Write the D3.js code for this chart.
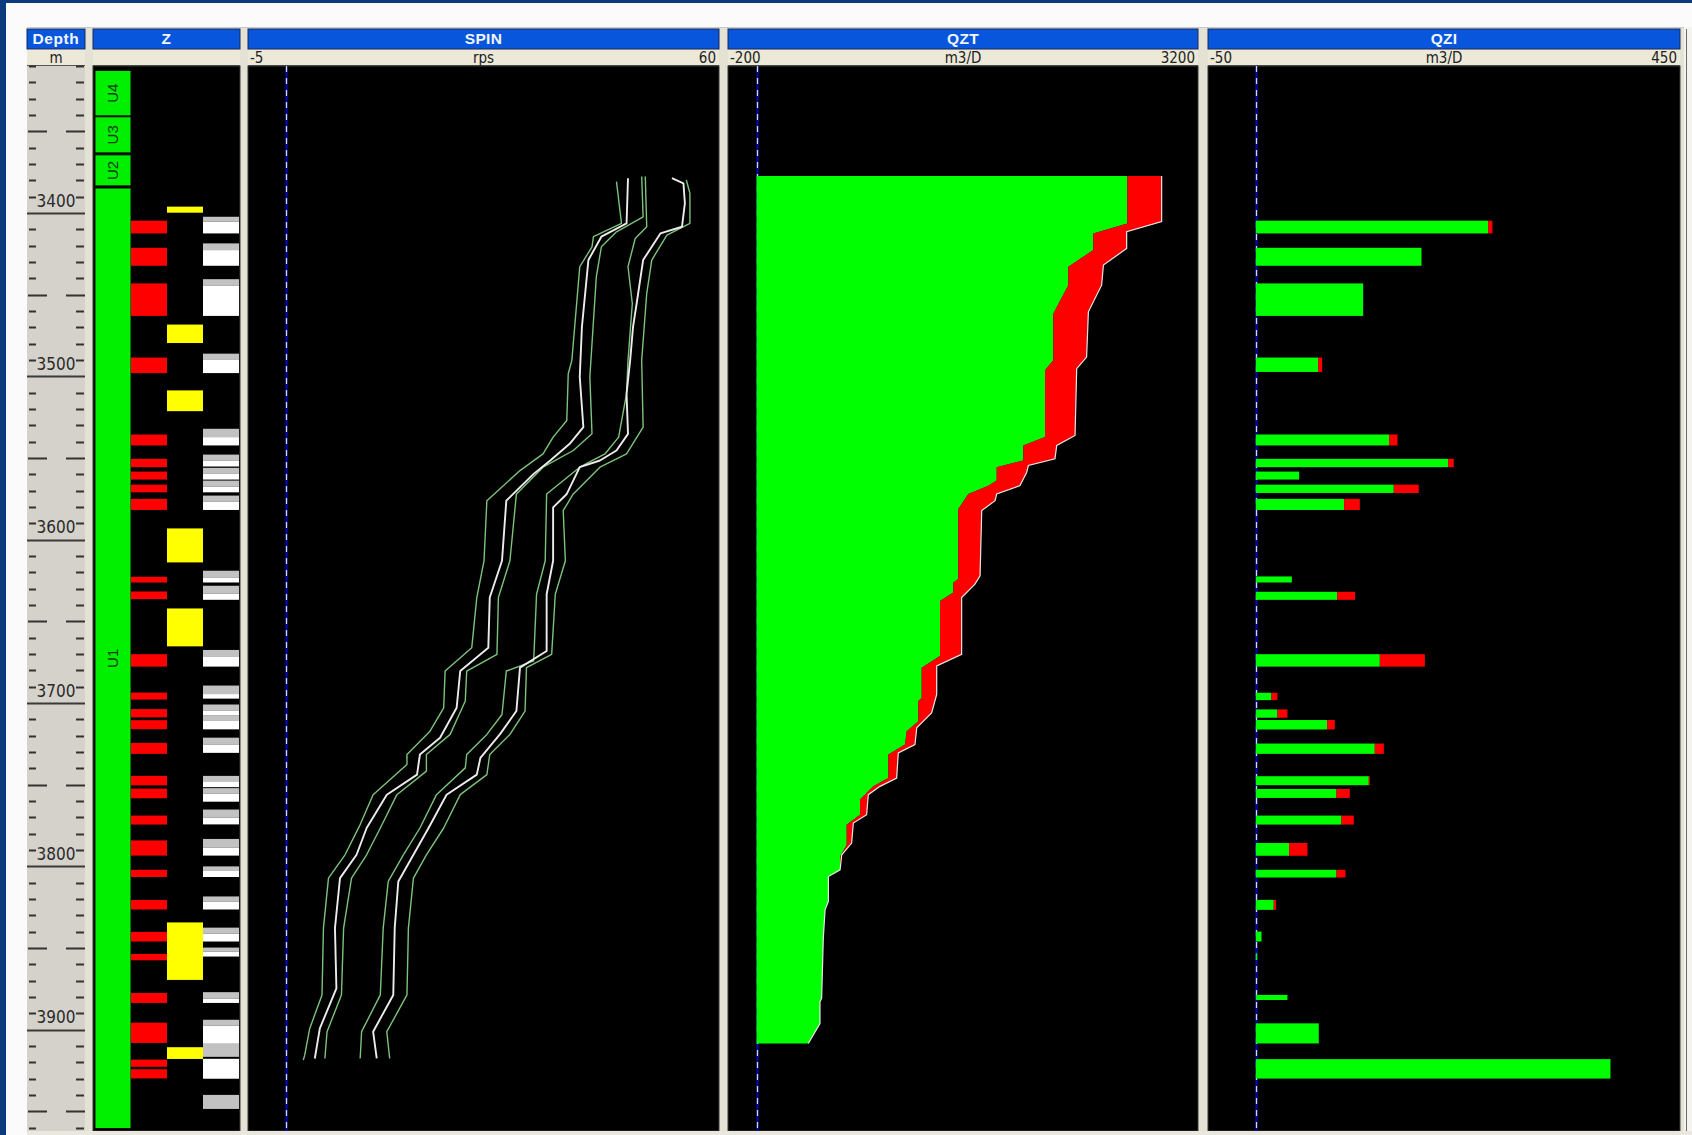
<!DOCTYPE html>
<html>
<head>
<meta charset="utf-8">
<script src="https://cdn.jsdelivr.net/npm/d3@7"></script>
<style>
  html, body { margin: 0; padding: 0; background: #0c3a7c; overflow: hidden; }
  svg { display: block; }
</style>
</head>
<body>
<script>
// ---------------- data ----------------
const depthDomain = [3310, 3962];              // metres shown in the window
const depthLabels = [3400, 3500, 3600, 3700, 3800, 3900];

const trackTitles = ["Depth", "Z", "SPIN", "QZT", "QZI"];
const trackUnits  = ["m", "", "rps", "m3/D", "m3/D"];
const trackMins   = ["", "", "-5", "-200", "-50"];
const trackMaxs   = ["", "", "60", "3200", "450"];

// layer zones (Z track)
const zoneNames   = ["U4", "U3", "U2", "U1"];
const zoneTops    = [3312.7, 3341.1, 3364.4, 3384.7];
const zoneBottoms = [3340.5, 3363.2, 3383.4, 3960.5];

// perforated intervals [top, bottom]
const perfIntervals = [
  [3404.7,3412.5],[3421.3,3432.3],[3443.1,3463.0],[3488.5,3498.0],[3535.6,3542.3],
  [3550.5,3555.6],[3558.3,3563.2],[3566.3,3571.0],[3575.0,3581.8],[3622.7,3626.2],
  [3631.7,3636.4],[3670.1,3677.7],[3693.6,3697.9],[3703.7,3708.8],[3710.5,3716.0],
  [3724.4,3731.1],[3744.6,3750.4],[3752.4,3758.3],[3768.9,3774.4],[3784.1,3793.4],
  [3802.1,3806.5],[3820.6,3826.4],[3840.1,3846.0],[3853.6,3857.5],[3877.5,3883.6],
  [3895.7,3908.1],[3918.3,3922.7],[3924.2,3929.8]
];

// interlayer intervals (yellow)
const yellowIntervals = [
  [3396.1,3399.8],[3468.3,3479.6],[3508.6,3521.3],[3593.1,3613.9],
  [3642.1,3665.3],[3834.3,3869.5],[3910.7,3917.9]
];

// interpretation column: gray and white intervals
const grayIntervals = [
  [3402.3,3405.3],[3418.6,3422.7],[3440.5,3444.6],[3486.1,3489.6],[3532.1,3537.2],
  [3547.9,3551.5],[3556.0,3559.7],[3563.8,3567.5],[3573.0,3576.3],[3619.0,3623.1],
  [3628.2,3633.1],[3667.5,3671.8],[3689.3,3694.5],[3700.9,3704.8],[3707.4,3710.6],
  [3721.2,3725.6],[3744.6,3747.9],[3752.1,3755.4],[3765.2,3770.2],[3783.2,3788.5],
  [3800.0,3802.8],[3818.4,3821.7],[3837.5,3841.2],[3849.7,3852.2],[3877.0,3881.0],
  [3893.9,3897.5],[3908.6,3916.6],[3939.9,3948.5]
];
const whiteIntervals = [
  [3405.3,3412.5],[3422.7,3432.3],[3444.6,3463.0],[3489.6,3498.0],[3537.2,3542.3],
  [3551.5,3555.2],[3559.7,3563.2],[3567.5,3571.0],[3576.5,3581.8],[3623.1,3626.2],
  [3633.1,3636.8],[3671.8,3677.7],[3694.5,3697.3],[3704.8,3707.4],[3710.6,3716.1],
  [3725.6,3730.5],[3747.9,3751.5],[3755.4,3760.4],[3770.2,3774.3],[3788.5,3793.4],
  [3802.8,3806.5],[3821.7,3826.4],[3841.2,3846.0],[3852.2,3855.2],[3881.0,3883.6],
  [3897.5,3908.6],[3917.8,3930.0]
];

// spinner passes: [depth, rps]
const spinA1 = [[3380.8,45.9],[3406.4,46.6],[3414.5,42.7],[3420.7,42.5],[3432.9,40.8],[3490.2,39.7],[3498.4,39.2],[3527.0,39.0],[3537.2,37.1],[3547.5,35.7],[3557.7,32.5],[3576.1,27.9],[3612.9,27.5],[3635.4,26.5],[3666.1,25.8],[3680.4,22.1],[3702.9,21.9],[3717.2,20.0],[3731.5,16.8],[3737.6,16.8],[3756.1,12.1],[3774.4,10.3],[3792.9,8.2],[3807.2,5.9],[3837.8,5.2],[3878.7,5.0],[3899.2,3.3],[3915.6,2.6],[3918.6,2.4]];
const spinA2 = [[3378.7,47.5],[3406.4,47.3],[3414.5,43.8],[3428.8,42.0],[3469.7,41.1],[3500.4,40.8],[3531.1,41.3],[3541.3,39.4],[3551.5,36.7],[3559.7,34.4],[3576.1,30.6],[3612.9,30.0],[3635.4,28.3],[3666.1,28.1],[3680.4,24.2],[3702.9,23.7],[3721.3,21.4],[3731.5,18.6],[3743.8,18.2],[3756.1,14.0],[3776.5,11.2],[3792.9,9.8],[3807.2,7.5],[3837.8,6.8],[3874.7,7.0],[3899.2,4.7],[3917.6,4.0]];
const spinA3 = [[3377.7,49.4],[3402.3,49.6],[3411.5,45.9],[3420.7,43.8],[3439.1,43.1],[3500.4,42.2],[3535.2,42.5],[3545.4,39.9],[3555.6,35.7],[3572.0,32.0],[3612.9,31.1],[3635.4,29.5],[3670.2,29.3],[3680.4,25.1],[3698.8,24.9],[3719.2,22.8],[3731.5,19.5],[3741.7,19.5],[3756.1,15.4],[3776.5,13.1],[3792.9,11.2],[3807.2,9.1],[3837.8,8.0],[3878.7,7.7],[3901.2,5.7],[3917.6,5.4]];
const spinB1 = [[3377.7,49.9],[3408.4,50.1],[3415.6,48.5],[3432.9,47.5],[3455.4,48.1],[3490.2,47.5],[3510.6,47.3],[3537.2,46.2],[3547.5,44.3],[3555.6,40.8],[3572.0,36.2],[3612.9,36.0],[3633.4,34.8],[3674.2,34.4],[3680.4,30.6],[3707.0,30.0],[3719.2,27.9],[3731.5,25.1],[3739.7,24.9],[3756.1,20.9],[3776.5,18.6],[3792.9,16.3],[3809.2,14.2],[3837.8,13.5],[3878.7,13.1],[3901.2,10.5],[3917.6,10.3]];
const spinB2 = [[3378.7,53.6],[3381.8,55.2],[3394.1,55.4],[3408.4,55.0],[3412.5,52.0],[3428.8,49.6],[3455.4,48.7],[3469.7,48.2],[3490.2,47.8],[3510.6,47.3],[3535.2,47.5],[3545.4,45.9],[3551.5,43.6],[3555.6,40.8],[3572.0,39.0],[3580.2,37.1],[3612.9,37.1],[3633.4,36.2],[3668.1,36.2],[3678.3,32.5],[3704.9,32.0],[3719.2,29.7],[3733.6,27.0],[3743.8,26.5],[3756.1,22.3],[3776.5,19.8],[3792.9,17.7],[3809.2,15.6],[3837.8,15.1],[3878.7,14.9],[3901.2,12.1],[3917.6,12.6]];
const spinB3 = [[3379.8,55.6],[3387.9,56.1],[3406.4,56.1],[3413.5,52.9],[3428.8,50.8],[3449.3,50.1],[3490.2,49.4],[3531.1,49.6],[3547.5,47.3],[3555.6,43.6],[3572.0,39.9],[3582.2,38.5],[3612.9,38.8],[3633.4,37.4],[3670.2,36.9],[3678.3,33.4],[3704.9,33.2],[3719.2,31.1],[3731.5,28.3],[3743.8,27.9],[3756.1,24.2],[3776.5,21.9],[3792.9,19.5],[3807.2,17.7],[3837.8,17.0],[3878.7,16.8],[3901.2,14.0],[3917.6,14.4]];

// cumulative flow profile: [depth, m3/D]
const qztInner = [[3377.3,2694],[3406.4,2694],[3412.5,2447],[3422.7,2447],[3432.9,2265],[3444.2,2265],[3461.6,2156],[3490.2,2156],[3496.3,2096],[3537.2,2096],[3542.3,1938],[3551.5,1938],[3555.6,1745],[3563.8,1745],[3566.9,1684],[3572.0,1539],[3581.2,1466],[3624.1,1466],[3626.2,1430],[3632.4,1430],[3637.5,1333],[3671.2,1333],[3678.4,1200],[3696.8,1200],[3698.8,1176],[3711.1,1176],[3717.2,1091],[3725.4,1079],[3731.5,958],[3745.9,958],[3751.0,849],[3759.1,752],[3768.4,752],[3774.5,655],[3786.8,655],[3793.9,607],[3802.1,607],[3806.2,522],[3821.5,522],[3826.6,498],[3844.0,485],[3880.8,473],[3882.9,461],[3896.2,461],[3908.4,376]];
const qztTotal = [[3377.3,2943],[3405.3,2943],[3411.5,2689],[3421.7,2689],[3431.9,2520],[3444.2,2507],[3460.5,2411],[3488.2,2398],[3495.3,2326],[3536.2,2314],[3542.3,2181],[3550.5,2168],[3554.6,1975],[3558.7,1963],[3566.9,1914],[3572.0,1745],[3576.1,1733],[3582.2,1636],[3622.1,1624],[3627.2,1587],[3635.4,1490],[3670.2,1490],[3677.3,1309],[3694.7,1309],[3706.0,1272],[3711.1,1212],[3715.2,1164],[3725.4,1151],[3730.5,1030],[3745.9,1018],[3751.0,897],[3756.1,812],[3768.4,800],[3773.5,703],[3785.7,691],[3792.9,619],[3802.1,607],[3806.2,522]];

// per-interval flow: [top, bottom], green part and total
const qziIntervals = [
  [3404.7,3412.5],[3421.3,3432.3],[3443.1,3463.0],[3488.5,3497.3],[3535.6,3542.3],
  [3550.5,3555.6],[3558.3,3563.2],[3566.3,3571.4],[3575.0,3581.8],[3622.5,3626.2],
  [3631.9,3636.8],[3670.1,3677.7],[3693.7,3698.2],[3703.9,3709.0],[3710.4,3716.2],
  [3724.8,3731.1],[3744.8,3750.3],[3752.6,3758.1],[3768.9,3774.4],[3785.7,3793.5],
  [3802.1,3806.8],[3820.5,3826.6],[3839.9,3846.0],[3853.2,3857.3],[3878.7,3881.8],
  [3896.1,3908.4],[3918.0,3929.9]
];
const qziGreen = [248.2,177.0,114.7,66.6,142.5,205.5,46.3,147.4,94.4,38.5,86.9,132.5,16.7,23.1,76.2,127.1,120.7,86.2,91.5,35.6,86.2,19.2,6.1,1.4,33.8,67.3,378.9];
const qziTotal = [252.8,177.0,114.7,70.9,151.4,211.5,46.3,174.1,111.1,38.5,106.1,180.6,23.1,33.8,84.4,136.8,121.8,100.4,104.7,55.2,95.8,21.7,6.1,1.4,33.8,67.3,378.9];

// ---------------- layout ----------------
const W = 1692, H = 1135;
const headTop = 29, headBot = 49, unitBot = 65, bodyTop = 66, bodyBot = 1131;
const tracks = [
  { x0: 27,   x1: 85 },
  { x0: 93,   x1: 240 },
  { x0: 248,  x1: 719 },
  { x0: 728,  x1: 1198 },
  { x0: 1208, x1: 1680 }
];
const narrow = "'Liberation Sans Narrow','Arial Narrow','DejaVu Sans Condensed','Liberation Sans',sans-serif";
const bold = "'Liberation Sans',Arial,sans-serif";

const svg = d3.select("body").append("svg").attr("width", W).attr("height", H);

const y = d3.scaleLinear().domain(depthDomain).range([bodyTop, bodyBot]);
const xSpin = d3.scaleLinear().domain([-5, 60]).range([250, 718]);
const xQzt  = d3.scaleLinear().domain([-200, 3200]).range([729, 1197]);
const xQzi  = d3.scaleLinear().domain([-50, 450]).range([1209, 1677]);

// window background
svg.append("rect").attr("x", 0).attr("y", 0).attr("width", W).attr("height", H).attr("fill", "#0c3a7c");
svg.append("rect").attr("x", 6).attr("y", 3).attr("width", W - 6).attr("height", H - 3).attr("fill", "#fbfbfb");
svg.append("rect").attr("x", 85).attr("y", 27).attr("width", W - 85).attr("height", H - 27).attr("fill", "#e4e1d5");
svg.append("line").attr("x1", 27).attr("x2", W).attr("y1", 27.5).attr("y2", 27.5).attr("stroke", "#c8c8c8");

// headers
tracks.forEach((t, i) => {
  const w = t.x1 - t.x0;
  svg.append("rect").attr("x", t.x0).attr("y", headTop).attr("width", w).attr("height", headBot - headTop)
    .attr("fill", "#0756dc").attr("stroke", "#1b2b5a").attr("stroke-width", 1);
  svg.append("rect").attr("x", t.x0).attr("y", headBot + 1).attr("width", w).attr("height", unitBot - headBot - 1)
    .attr("fill", "#ece9d8");
  svg.append("line").attr("x1", t.x0).attr("x2", t.x1).attr("y1", unitBot + 0.5).attr("y2", unitBot + 0.5)
    .attr("stroke", "#555");
  svg.append("text").attr("x", (t.x0 + t.x1) / 2).attr("y", headBot - 5)
    .attr("text-anchor", "middle").attr("font-family", bold).attr("font-weight", "bold")
    .attr("font-size", 15.5).attr("letter-spacing", i === 0 ? 0.6 : 0.3).attr("fill", "#f2f6ff")
    .text(trackTitles[i]);
  svg.append("text").attr("x", (t.x0 + t.x1) / 2).attr("y", unitBot - 2)
    .attr("text-anchor", "middle").attr("font-family", narrow).attr("font-size", 15).attr("fill", "#222")
    .text(trackUnits[i]);
  svg.append("text").attr("x", t.x0 + 2).attr("y", unitBot - 2)
    .attr("font-family", narrow).attr("font-size", 15).attr("fill", "#222").text(trackMins[i]);
  svg.append("text").attr("x", t.x1 - 3).attr("y", unitBot - 2).attr("text-anchor", "end")
    .attr("font-family", narrow).attr("font-size", 15).attr("fill", "#222").text(trackMaxs[i]);
});

// partial next track at the right edge
svg.append("rect").attr("x", 1684).attr("y", 27).attr("width", 8).attr("height", H - 27).attr("fill", "#f4f3ee");
svg.append("line").attr("x1", 1686.5).attr("x2", 1686.5).attr("y1", 29).attr("y2", H).attr("stroke", "#6a6a6a");

// track bodies
tracks.forEach((t, i) => {
  svg.append("rect").attr("x", t.x0).attr("y", bodyTop).attr("width", t.x1 - t.x0).attr("height", bodyBot - bodyTop)
    .attr("fill", i === 0 ? "#d5d2cb" : "#000").attr("stroke", i === 0 ? "none" : "#3a3a3a");
});
svg.append("rect").attr("x", 27).attr("y", bodyBot).attr("width", W - 27).attr("height", H - bodyBot).attr("fill", "#e9e7de");

// ---------- depth track ----------
const dg = svg.append("g");
d3.range(depthDomain[0], depthDomain[1], 10).forEach(d => {
  const yy = Math.round(y(d)) + 0.5;
  if (d % 100 === 0) {
    dg.append("line").attr("x1", 27).attr("x2", 85).attr("y1", yy).attr("y2", yy)
      .attr("stroke", "#3a3a3a").attr("stroke-width", 2);
  } else if (d % 50 === 0) {
    dg.append("line").attr("x1", 28).attr("x2", 47).attr("y1", yy).attr("y2", yy).attr("stroke", "#333").attr("stroke-width", 2);
    dg.append("line").attr("x1", 66).attr("x2", 85).attr("y1", yy).attr("y2", yy).attr("stroke", "#333").attr("stroke-width", 2);
  } else {
    dg.append("line").attr("x1", 29).attr("x2", 36).attr("y1", yy).attr("y2", yy).attr("stroke", "#333").attr("stroke-width", 2);
    dg.append("line").attr("x1", 76).attr("x2", 84).attr("y1", yy).attr("y2", yy).attr("stroke", "#333").attr("stroke-width", 2);
  }
});
depthLabels.forEach(d => {
  dg.append("text").attr("x", 56).attr("y", y(d) - 12.5).attr("dy", "0.36em")
    .attr("text-anchor", "middle").attr("font-family", narrow).attr("font-size", 17).attr("fill", "#2a2a2a")
    .text(d);
});

// ---------- Z track ----------
const zCols = d3.scaleBand().domain(["zone", "perf", "yellow", "interp"]).range([95, 239]);
const zg = svg.append("g");
zoneNames.forEach((n, i) => {
  const y0 = y(zoneTops[i]), y1 = y(zoneBottoms[i]);
  zg.append("rect").attr("x", zCols("zone")).attr("y", y0).attr("width", zCols.bandwidth()).attr("height", y1 - y0)
    .attr("fill", "#00f000").attr("stroke", "#0a0a0a").attr("stroke-width", 1);
  const cx = zCols("zone") + zCols.bandwidth() / 2, cy = (y0 + y1) / 2;
  zg.append("text").attr("transform", `translate(${cx},${cy}) rotate(-90)`).attr("dy", "0.36em")
    .attr("text-anchor", "middle").attr("font-family", bold).attr("font-size", 15).attr("fill", "#0b3d0b")
    .text(n);
});
const intervalRects = (list, col, color) => {
  zg.selectAll(null).data(list).join("rect")
    .attr("x", zCols(col)).attr("width", zCols.bandwidth())
    .attr("y", d => y(d[0])).attr("height", d => y(d[1]) - y(d[0]))
    .attr("fill", color);
};
intervalRects(perfIntervals, "perf", "#ff0000");
intervalRects(yellowIntervals, "yellow", "#ffff00");
intervalRects(grayIntervals, "interp", "#c2c2c2");
intervalRects(whiteIntervals, "interp", "#ffffff");

// zero reference line, blue with light dashes
function zeroLine(x) {
  const xx = Math.round(x) + 0.5;
  svg.append("line").attr("x1", xx).attr("x2", xx).attr("y1", bodyTop).attr("y2", bodyBot)
    .attr("stroke", "#0008b0").attr("stroke-width", 2.2);
  svg.append("line").attr("x1", xx).attr("x2", xx).attr("y1", bodyTop).attr("y2", bodyBot)
    .attr("stroke", "#d8d8d8").attr("stroke-width", 1.3).attr("stroke-dasharray", "6,6");
}

// ---------- SPIN track ----------
zeroLine(xSpin(0));
const spinLine = d3.line().x(d => xSpin(d[1])).y(d => y(d[0]));
const spinG = svg.append("g").attr("fill", "none").attr("stroke-linejoin", "round");
[[spinA1, "g"], [spinA3, "g"], [spinB1, "g"], [spinB3, "g"], [spinA2, "w"], [spinB2, "w"]].forEach(([s, k]) => {
  spinG.append("path").attr("d", spinLine(s))
    .attr("stroke", k === "g" ? "#7cc37c" : "#ececec")
    .attr("stroke-width", k === "g" ? 1.4 : 1.9);
});

// ---------- QZT track ----------
zeroLine(xQzt(0));
const qg = svg.append("g");
const x0q = xQzt(0);
const innerPts = qztInner.map(d => [xQzt(d[1]), y(d[0])]);
const greenPoly = [[x0q, y(qztInner[0][0])], ...innerPts, [x0q, y(qztInner[qztInner.length - 1][0])]];
qg.append("path").attr("d", d3.line()(greenPoly) + "Z").attr("fill", "#00ff00");
const lastTotalDepth = qztTotal[qztTotal.length - 1][0];
const innerUpper = qztInner.filter(d => d[0] <= lastTotalDepth).reverse();
const redPoly = [...qztTotal.map(d => [xQzt(d[1]), y(d[0])]), ...innerUpper.map(d => [xQzt(d[1]), y(d[0])])];
qg.append("path").attr("d", d3.line()(redPoly) + "Z").attr("fill", "#ff0000");
const outline = [...qztTotal, ...qztInner.filter(d => d[0] > lastTotalDepth)]
  .map(d => [xQzt(d[1]), y(d[0])]);
qg.append("path").attr("d", d3.line()(outline)).attr("fill", "none").attr("stroke", "#e8e8e8").attr("stroke-width", 1.2);

// ---------- QZI track ----------
zeroLine(xQzi(0));
const bg = svg.append("g");
bg.selectAll(".g").data(qziIntervals).join("rect")
  .attr("x", xQzi(0)).attr("y", d => y(d[0]))
  .attr("width", (d, i) => xQzi(qziGreen[i]) - xQzi(0)).attr("height", d => y(d[1]) - y(d[0]))
  .attr("fill", "#00ff00");
bg.selectAll(".r").data(qziIntervals).join("rect")
  .attr("x", (d, i) => xQzi(qziGreen[i])).attr("y", d => y(d[0]))
  .attr("width", (d, i) => xQzi(qziTotal[i]) - xQzi(qziGreen[i])).attr("height", d => y(d[1]) - y(d[0]))
  .attr("fill", "#ff0000");
</script>
</body>
</html>
